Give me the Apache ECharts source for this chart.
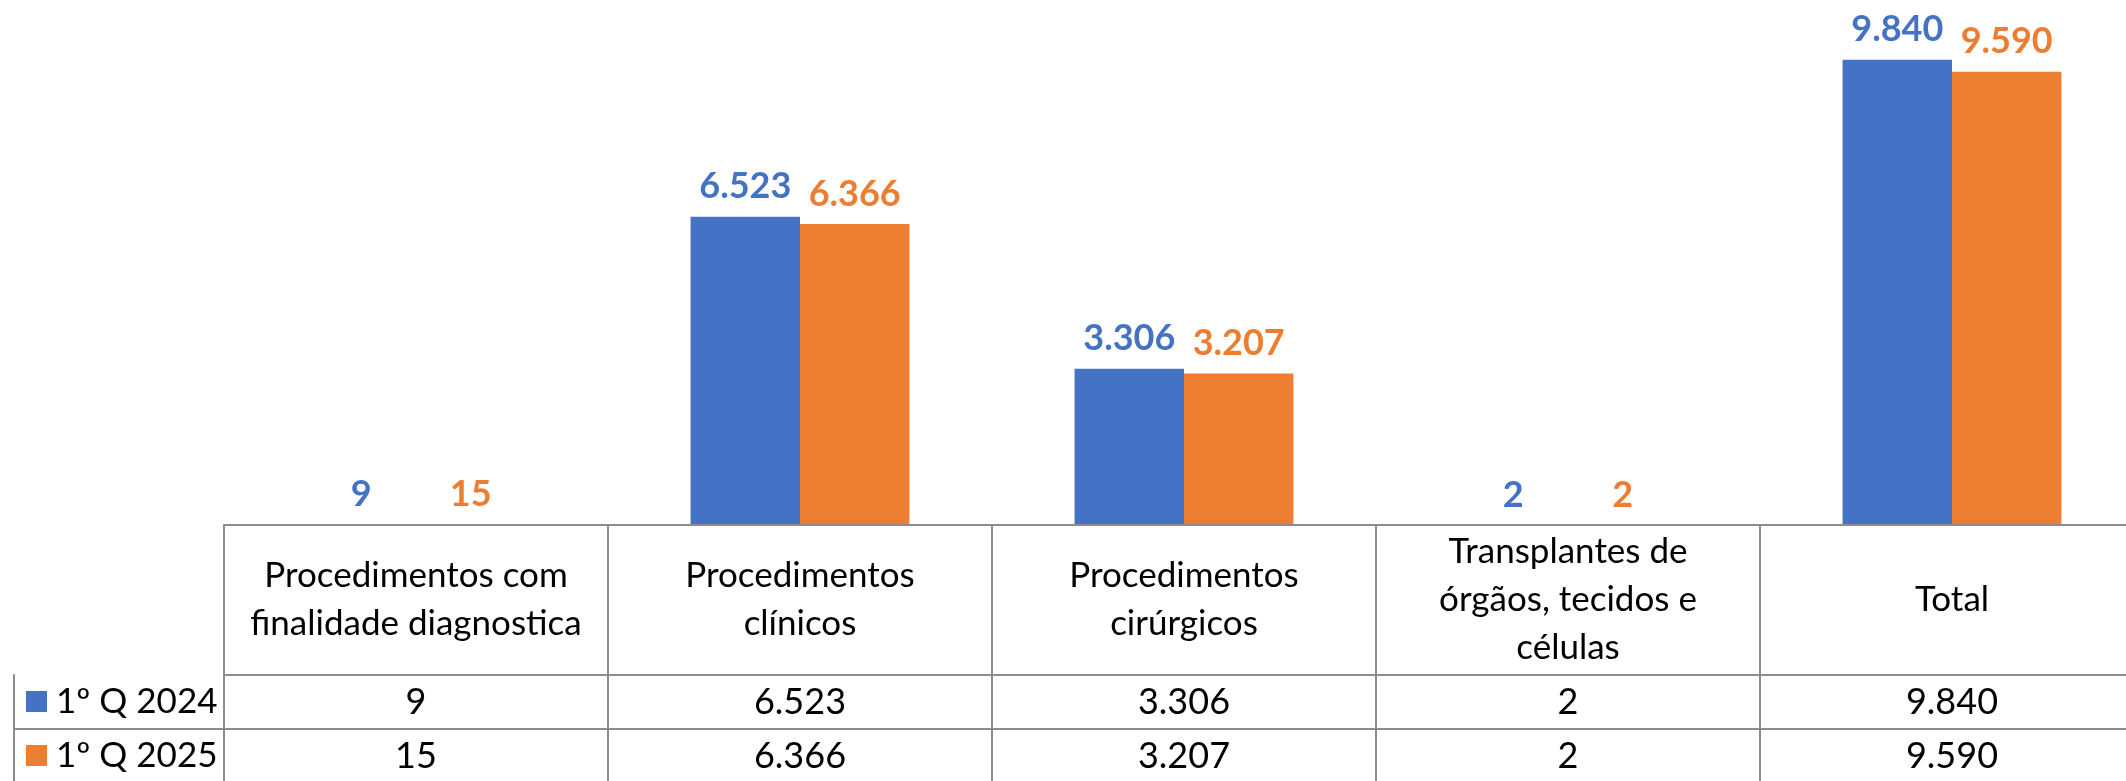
<!DOCTYPE html>
<html>
<head>
<meta charset="utf-8">
<script src="https://cdn.jsdelivr.net/npm/echarts@6/dist/echarts.min.js"></script>
<style>
  html, body { margin: 0; padding: 0; background: #fff; }
  #chart { width: 2126px; height: 781px; }
</style>
</head>
<body>
<div id="chart"></div>
<script>
// data
const categories = [
  'Procedimentos com\nfinalidade diagnostica',
  'Procedimentos\nclínicos',
  'Procedimentos\ncirúrgicos',
  'Transplantes de\nórgãos, tecidos e\ncélulas',
  'Total'
]
const seriesNames = ['1º Q 2024', '1º Q 2025']
const q2024 = [9, 6523, 3306, 2, 9840]
const q2025 = [15, 6366, 3207, 2, 9590]

const colors = ['#4472C4', '#ED7D31']
const lineColor = '#8c8c8c'
const font = 'Lato, "Open Sans", sans-serif'

// 9840 -> 9.840
const fmt = v => String(v).replace(/\B(?=(\d{3})+(?!\d))/g, '.')

const myChart = echarts.init(document.getElementById('chart'))

const barSeries = (name, data, i) => ({
  name: name,
  type: 'bar',
  xAxisIndex: 0,
  yAxisIndex: 0,
  barGap: '0%',
  barCategoryGap: '43%',
  itemStyle: { color: colors[i] },
  label: {
    show: true,
    position: 'top',
    distance: 12,
    color: colors[i],
    fontFamily: font,
    fontWeight: 'bold',
    fontSize: 36,
    formatter: p => fmt(p.value)
  },
  data: data
})

const gridLine = { show: true, lineStyle: { color: lineColor, width: 2 } }
const hiddenAxisBits = {
  axisTick: { show: false },
  axisLabel: { show: false },
  splitLine: { show: false }
}
const rowLabel = { interval: 0, margin: 27, verticalAlign: 'middle', color: '#000', fontSize: 36, fontFamily: font }

// one legend per table row, so each sits in its own cell
const legendFor = (name, top) => ({
  left: 26,
  top: top,
  padding: 0,
  itemWidth: 21,
  itemHeight: 21,
  icon: 'rect',
  selectedMode: false,
  textStyle: { fontSize: 35, color: '#000', fontFamily: font, padding: [0, 0, 0, 4] },
  data: [name]
})

myChart.setOption({
  animation: false,
  textStyle: { fontFamily: font },
  grid: [
    { left: 224, top: 5, width: 1920, height: 520, outerBoundsMode: 'none', containLabel: false },
    { left: 14, top: 675, width: 210, height: 54, outerBoundsMode: 'none', containLabel: false },
    { left: 14, top: 729, width: 210, height: 120, outerBoundsMode: 'none', containLabel: false }
  ],
  legend: [
    legendFor(seriesNames[0], 684),
    legendFor(seriesNames[1], 738)
  ],
  xAxis: [
    {
      // header row: category names
      type: 'category',
      gridIndex: 0,
      position: 'bottom',
      z: 5,
      data: categories,
      axisLine: gridLine,
      axisTick: { show: true, length: 260, lineStyle: { color: lineColor, width: 2 } },
      axisLabel: {
        interval: 0,
        margin: 75,
        verticalAlign: 'middle',
        color: '#000',
        fontSize: 35,
        lineHeight: 48,
        fontFamily: font
      }
    },
    {
      // row 1º Q 2024
      type: 'category',
      gridIndex: 0,
      position: 'bottom',
      offset: 150,
      data: q2024.map(fmt),
      axisLine: gridLine,
      axisTick: { show: false },
      axisLabel: rowLabel
    },
    {
      // row 1º Q 2025
      type: 'category',
      gridIndex: 0,
      position: 'bottom',
      offset: 204,
      data: q2025.map(fmt),
      axisLine: gridLine,
      axisTick: { show: false },
      axisLabel: rowLabel
    },
    // legend column cell borders
    { type: 'category', gridIndex: 1, position: 'top', data: [''], axisLine: gridLine, ...hiddenAxisBits },
    { type: 'category', gridIndex: 2, position: 'top', data: [''], axisLine: gridLine, ...hiddenAxisBits }
  ],
  yAxis: [
    { type: 'value', gridIndex: 0, min: 0, max: 11000, show: false },
    { type: 'value', gridIndex: 1, position: 'left', axisLine: gridLine, ...hiddenAxisBits },
    { type: 'value', gridIndex: 2, position: 'left', axisLine: gridLine, ...hiddenAxisBits }
  ],
  series: [
    barSeries(seriesNames[0], q2024, 0),
    barSeries(seriesNames[1], q2025, 1)
  ]
})
</script>
</body>
</html>
